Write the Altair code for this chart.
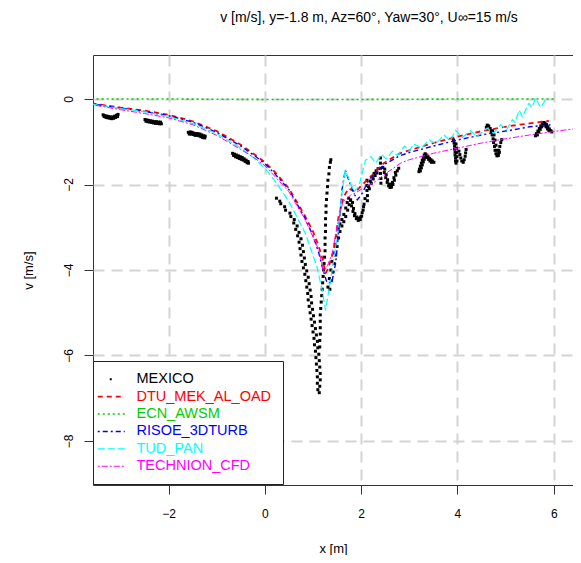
import altair as alt
import pandas as pd

# ---------------- data ----------------
names = ["MEXICO", "DTU_MEK_AL_OAD", "ECN_AWSM", "RISOE_3DTURB", "TUD_PAN", "TECHNION_CFD"]
colors = ["#000000", "#FF0000", "#00CD00", "#0000FF", "#00FFFF", "#FF00FF"]

x_dtu = [-3.6, -3.0, -2.5, -2.0, -1.5, -1.0, -0.5, -0.2, 0.0, 0.2, 0.5, 0.84, 1.0, 1.12, 1.2, 1.26, 1.32,
         1.43, 1.53, 1.64, 1.74, 1.88, 2.09, 2.3, 2.47, 2.8, 3.0, 3.5, 4.0, 4.55, 5.1, 5.5, 5.9]
v_dtu = [-0.1, -0.2, -0.27, -0.37, -0.52, -0.75, -1.07, -1.31, -1.48, -1.7, -2.09, -2.75, -3.1, -3.45, -3.75,
         -4.08, -3.95, -3.53, -2.75, -2.28, -2.09, -2.17, -1.93, -1.7, -1.5, -1.27, -1.2, -1.03, -0.88, -0.74,
         -0.63, -0.57, -0.51]

x_ecn = [-3.6, -2.0, 0.0, 1.3, 2.0, 4.0, 6.0]
v_ecn = [0.0, 0.0, -0.01, -0.01, -0.01, 0.0, 0.0]

x_risoe = [-3.6, -3.0, -2.5, -2.0, -1.5, -1.0, -0.5, -0.2, 0.0, 0.2, 0.5, 0.84, 1.0, 1.12, 1.19, 1.29, 1.39,
           1.47, 1.53, 1.6, 1.67, 1.74, 1.85, 1.92, 2.02, 2.16, 2.3, 2.5, 2.8, 3.0, 3.5, 4.0, 4.5, 5.1, 5.5, 5.97]
v_risoe = [-0.11, -0.21, -0.29, -0.39, -0.54, -0.78, -1.1, -1.34, -1.51, -1.74, -2.12, -2.8, -3.2, -3.6, -3.92,
           -4.3, -4.3, -3.84, -3.14, -2.13, -1.66, -1.89, -2.21, -2.36, -2.21, -1.89, -1.73, -1.52, -1.33, -1.25,
           -1.1, -0.96, -0.84, -0.73, -0.65, -0.6]

x_tud = [-3.6, -3.0, -2.5, -2.0, -1.5, -1.0, -0.5, -0.2, 0.0, 0.2, 0.5, 0.84, 1.08, 1.19, 1.26, 1.33, 1.43,
         1.53, 1.6, 1.67, 1.78, 1.85, 1.95, 2.09, 2.2, 2.3, 2.42, 2.52, 2.65, 2.75, 2.9, 3.0, 3.09, 3.25, 3.41,
         3.55, 3.72, 3.85, 3.96, 4.1, 4.27, 4.4, 4.62, 4.75, 4.9, 5.02, 5.14, 5.2, 5.28, 5.35, 5.48, 5.55,
         5.62, 5.73, 5.83]
v_tud = [-0.12, -0.22, -0.3, -0.41, -0.57, -0.81, -1.15, -1.41, -1.62, -1.9, -2.4, -3.14, -3.92, -4.47, -4.94,
         -4.47, -3.77, -2.99, -2.21, -1.66, -1.97, -2.17, -2.05, -1.43, -1.35, -1.5, -1.3, -1.4, -1.22, -1.32,
         -1.1, -1.22, -1.05, -1.15, -0.95, -1.05, -0.84, -0.98, -0.73, -0.9, -0.74, -0.88, -0.68, -0.8, -0.6,
         -0.72, -0.48, -0.55, -0.26, -0.42, -0.1, -0.2, 0.02, -0.2, -0.02]

x_tech = [-3.6, -3.0, -2.5, -2.0, -1.5, -1.0, -0.5, -0.2, 0.0, 0.2, 0.5, 0.84, 1.12, 1.22, 1.3, 1.4, 1.5, 1.62,
          1.78, 1.88, 2.09, 2.3, 2.5, 2.82, 3.0, 3.5, 4.0, 4.5, 5.0, 5.5, 6.0, 6.6]
v_tech = [-0.13, -0.25, -0.34, -0.44, -0.6, -0.85, -1.18, -1.39, -1.56, -1.8, -2.17, -2.83, -3.53, -4.04, -3.9,
          -3.61, -2.99, -2.4, -2.25, -2.2, -2.05, -1.93, -1.75, -1.5, -1.42, -1.27, -1.15, -1.03, -0.93, -0.84,
          -0.76, -0.67]

# MEXICO measurement points, segment by segment (x, v)
mex_seg1 = [(-3.36, -0.37), (-3.32, -0.39), (-3.28, -0.40), (-3.24, -0.41), (-3.20, -0.42), (-3.16, -0.42),
            (-3.12, -0.40), (-3.08, -0.38), (-3.05, -0.36), (-3.34, -0.41), (-3.30, -0.43), (-3.26, -0.44),
            (-3.22, -0.45), (-3.18, -0.46), (-3.14, -0.45), (-3.10, -0.43), (-3.06, -0.41)]
mex_seg2 = [(-2.49, -0.48), (-2.45, -0.49), (-2.41, -0.50), (-2.37, -0.51), (-2.33, -0.52), (-2.29, -0.53),
            (-2.25, -0.53), (-2.21, -0.54), (-2.17, -0.54), (-2.47, -0.52), (-2.43, -0.53), (-2.39, -0.54),
            (-2.35, -0.55), (-2.31, -0.56), (-2.27, -0.57), (-2.23, -0.57), (-2.19, -0.58), (-2.15, -0.58)]
mex_seg3 = [(-1.59, -0.78), (-1.55, -0.77), (-1.51, -0.78), (-1.47, -0.80), (-1.43, -0.81), (-1.39, -0.81),
            (-1.35, -0.82), (-1.31, -0.84), (-1.27, -0.86), (-1.24, -0.87), (-1.57, -0.82), (-1.53, -0.82),
            (-1.49, -0.83), (-1.45, -0.85), (-1.41, -0.85), (-1.37, -0.86), (-1.33, -0.88), (-1.29, -0.90),
            (-1.25, -0.91)]
mex_seg4 = [(-0.67, -1.27), (-0.63, -1.29), (-0.59, -1.31), (-0.55, -1.33), (-0.51, -1.35), (-0.47, -1.37),
            (-0.43, -1.40), (-0.39, -1.43), (-0.35, -1.46), (-0.65, -1.32), (-0.61, -1.35), (-0.57, -1.37),
            (-0.53, -1.39), (-0.49, -1.41), (-0.45, -1.43), (-0.41, -1.46), (-0.37, -1.49), (-0.34, -1.50)]
mex_dip = [(0.24, -2.32), (0.33, -2.45), (0.43, -2.60), (0.54, -2.75), (0.60, -2.90), (0.64, -3.05),
           (0.68, -3.20), (0.71, -3.35), (0.73, -3.50), (0.75, -3.65), (0.77, -3.80), (0.80, -3.95),
           (0.83, -4.10), (0.85, -4.25), (0.87, -4.40), (0.89, -4.55), (0.90, -4.70), (0.92, -4.85),
           (0.94, -5.00), (0.96, -5.15), (0.98, -5.30), (1.00, -5.45), (1.02, -5.60), (1.03, -5.75),
           (1.05, -5.90), (1.06, -6.05), (1.07, -6.20), (1.08, -6.35), (1.09, -6.50), (1.09, -6.65),
           (1.10, -6.80),
           (0.31, -2.39), (0.41, -2.52), (0.52, -2.67), (0.61, -2.82), (0.67, -2.97), (0.71, -3.12),
           (0.75, -3.27), (0.78, -3.42), (0.80, -3.57), (0.82, -3.72), (0.84, -3.87), (0.87, -4.02),
           (0.90, -4.17), (0.92, -4.32), (0.94, -4.47), (0.96, -4.62), (0.97, -4.77), (0.99, -4.92),
           (1.01, -5.07), (1.03, -5.22), (1.05, -5.37), (1.07, -5.52), (1.09, -5.67), (1.10, -5.82),
           (1.12, -5.97), (1.13, -6.12), (1.14, -6.27), (1.15, -6.42), (1.15, -6.57), (1.14, -6.72),
           (1.13, -6.87)]
mex_column = [(1.14, -5.80), (1.14, -5.65), (1.15, -5.50), (1.15, -5.35), (1.15, -5.20), (1.15, -5.05),
              (1.16, -4.90), (1.17, -4.75), (1.18, -4.60), (1.19, -4.45), (1.20, -4.30), (1.21, -4.15),
              (1.22, -4.00), (1.23, -3.85), (1.24, -3.70), (1.25, -3.55), (1.25, -3.40), (1.25, -3.25),
              (1.26, -3.10), (1.26, -2.95), (1.26, -2.80), (1.27, -2.65), (1.27, -2.50), (1.28, -2.35),
              (1.29, -2.20), (1.30, -2.05), (1.31, -1.90), (1.33, -1.75), (1.34, -1.60), (1.36, -1.48),
              (1.37, -1.42)]
mex_rise = [(1.31, -4.40), (1.34, -4.20), (1.37, -4.00), (1.40, -3.80), (1.43, -3.60), (1.46, -3.40),
            (1.49, -3.20), (1.52, -3.05), (1.56, -2.92), (1.60, -2.82), (1.64, -2.70), (1.68, -2.55),
            (1.71, -2.42), (1.74, -2.32),
            (1.35, -4.45), (1.38, -4.25), (1.41, -4.05), (1.44, -3.85), (1.47, -3.65), (1.50, -3.45),
            (1.53, -3.25), (1.56, -3.10), (1.60, -2.97), (1.64, -2.87), (1.68, -2.75), (1.72, -2.60),
            (1.75, -2.47), (1.78, -2.37)]
mex_bowl = [(1.78, -2.36), (1.80, -2.50), (1.83, -2.63), (1.86, -2.73), (1.90, -2.80), (1.94, -2.84),
            (1.98, -2.82), (2.01, -2.74), (2.04, -2.60), (2.06, -2.46), (2.08, -2.33),
            (1.82, -2.42), (1.84, -2.56), (1.87, -2.68), (1.91, -2.76), (1.95, -2.79), (1.99, -2.76),
            (2.02, -2.66), (2.05, -2.52)]
mex_mid = [(2.12, -1.90), (2.12, -2.02), (2.12, -2.14), (2.13, -2.26), (2.13, -2.38),
           (2.15, -2.05), (2.19, -1.92), (2.23, -1.82), (2.27, -1.74), (2.31, -1.68), (2.35, -1.63),
           (2.17, -2.10), (2.21, -1.97), (2.25, -1.87), (2.29, -1.79), (2.33, -1.73),
           (2.40, -1.38), (2.40, -1.50), (2.40, -1.62), (2.40, -1.74), (2.41, -1.86), (2.41, -1.97),
           (2.45, -1.60), (2.48, -1.72), (2.51, -1.84), (2.54, -1.95), (2.57, -2.03), (2.60, -2.07),
           (2.63, -2.06), (2.66, -2.00), (2.69, -1.90), (2.72, -1.78), (2.75, -1.68), (2.78, -1.62),
           (2.49, -1.64), (2.52, -1.77), (2.55, -1.89), (2.59, -1.99), (2.62, -2.01), (2.65, -1.95),
           (2.68, -1.84), (2.71, -1.72)]
mex_a = [(3.20, -1.70), (3.21, -1.64), (3.23, -1.57), (3.25, -1.50), (3.27, -1.43), (3.29, -1.37),
         (3.31, -1.31), (3.33, -1.28), (3.36, -1.31), (3.39, -1.35), (3.42, -1.39), (3.45, -1.42),
         (3.48, -1.45), (3.51, -1.48), (3.23, -1.68), (3.25, -1.61), (3.27, -1.54), (3.29, -1.47),
         (3.31, -1.41), (3.34, -1.35), (3.37, -1.37), (3.40, -1.41), (3.43, -1.45), (3.46, -1.48)]
mex_b = [(3.90, -0.92), (3.92, -0.96), (3.93, -1.03), (3.94, -1.10), (3.94, -1.17), (3.95, -1.24),
         (3.95, -1.31), (3.96, -1.38), (3.96, -1.45), (3.97, -1.50), (3.97, -1.05), (3.98, -1.15),
         (3.98, -1.25), (3.99, -1.35), (3.99, -1.45), (4.03, -1.22), (4.05, -1.30), (4.07, -1.38),
         (4.09, -1.45), (4.12, -1.48), (4.14, -1.42), (4.16, -1.34), (4.17, -1.26), (4.18, -1.18)]
mex_c = [(4.60, -0.66), (4.62, -0.61), (4.65, -0.63), (4.68, -0.69), (4.70, -0.76), (4.72, -0.84),
         (4.74, -0.93), (4.75, -1.02), (4.77, -1.11), (4.78, -1.20), (4.80, -1.28), (4.82, -1.33),
         (4.84, -1.28), (4.86, -1.20), (4.88, -1.11), (4.90, -1.02), (4.92, -0.95), (4.73, -0.74),
         (4.76, -0.84), (4.78, -0.96), (4.80, -1.08), (4.82, -1.20), (4.85, -1.32), (4.87, -1.25)]
mex_d = [(5.62, -0.86), (5.64, -0.81), (5.67, -0.75), (5.70, -0.69), (5.73, -0.63), (5.76, -0.58),
         (5.79, -0.55), (5.82, -0.56), (5.85, -0.60), (5.88, -0.65), (5.91, -0.70), (5.94, -0.74),
         (5.96, -0.77), (5.66, -0.84), (5.69, -0.78), (5.72, -0.71), (5.75, -0.65), (5.78, -0.60),
         (5.81, -0.61), (5.84, -0.65), (5.87, -0.70), (5.90, -0.74)]

x_ticks = [-2, 0, 2, 4, 6]
y_ticks = [0, -2, -4, -6, -8]
x_domain = [-3.57, 6.40]
y_domain = [-9.03, 1.03]

# ---------------- tables ----------------
model_series = [
    ("DTU_MEK_AL_OAD", x_dtu, v_dtu),
    ("ECN_AWSM", x_ecn, v_ecn),
    ("RISOE_3DTURB", x_risoe, v_risoe),
    ("TUD_PAN", x_tud, v_tud),
    ("TECHNION_CFD", x_tech, v_tech),
]
rows = []
for name, xs, vs in model_series:
    for i, (xv, vv) in enumerate(zip(xs, vs)):
        rows.append({"x": xv, "v": vv, "series": name, "i": i})
lines_df = pd.DataFrame(rows)

mex_all = (mex_seg1 + mex_seg2 + mex_seg3 + mex_seg4 + mex_dip + mex_column + mex_rise + mex_bowl
           + mex_mid + mex_a + mex_b + mex_c + mex_d)
mex_df = pd.DataFrame({"x": [p[0] for p in mex_all], "v": [p[1] for p in mex_all]})

# ---------------- styles ----------------
FONT = "Liberation Sans"
dashes = [[0, 12, 2, 100], [5, 4], [2, 3], [2, 3, 5, 3], [7, 3], [2, 2, 6, 2]]
widths = [2, 1, 1, 1, 1, 1]

label_expr = " : ".join(
    f"datum.value == '{n}' ? '{c}'" for n, c in zip(names, colors)
) + " : 'black'"

legend = alt.Legend(
    title=None, orient="none", legendX=0, legendY=306,
    symbolType="M-3,0H3", symbolSize=81, symbolFillColor="transparent",
    labelFont=FONT, labelFontSize=14.5, labelColor=alt.ExprRef(expr=label_expr),
    labelOffset=18, strokeColor="#222222", fillColor="white", padding=11, rowPadding=2.4,
    cornerRadius=0,
)

xscale = alt.Scale(domain=x_domain, nice=False, zero=False)
yscale = alt.Scale(domain=y_domain, nice=False, zero=False)

x_axis = alt.Axis(values=x_ticks, title="x [m]", labelBaseline="middle", labelPadding=19,
                  titleY=63, titleBaseline="middle")
y_axis = alt.Axis(values=y_ticks, title="v [m/s]", labelAngle=270, labelAlign="center",
                  labelBaseline="middle", labelPadding=16, titleAngle=270, titleX=-65, titleY=215,
                  titleBaseline="middle", titleAlign="center")

points = alt.Chart(mex_df).mark_square(size=9, color="black", opacity=1, clip=True).encode(
    x=alt.X("x:Q", scale=xscale, axis=x_axis),
    y=alt.Y("v:Q", scale=yscale, axis=y_axis),
)

lines = alt.Chart(lines_df).mark_line(clip=True, strokeCap="butt", strokeJoin="round").encode(
    x=alt.X("x:Q", scale=xscale, axis=x_axis),
    y=alt.Y("v:Q", scale=yscale, axis=y_axis),
    order=alt.Order("i:Q"),
    color=alt.Color("series:N", scale=alt.Scale(domain=names, range=colors), legend=legend),
    strokeDash=alt.StrokeDash("series:N", scale=alt.Scale(domain=names, range=dashes), legend=legend),
    strokeWidth=alt.StrokeWidth("series:N", scale=alt.Scale(domain=names, range=widths), legend=legend),
)

chart = (
    alt.layer(points, lines)
    .properties(
        width=480, height=430,
        autosize=alt.AutoSizeParams(type="none"),
        padding={"left": 85, "top": 47, "right": 0, "bottom": 70},
        title=alt.TitleParams(
            text="v [m/s], y=-1.8 m, Az=60°, Yaw=30°, U∞=15 m/s",
            font=FONT, fontSize=14, fontWeight="normal", color="black",
            anchor="middle", frame="group", dx=36, offset=30,
        ),
    )
    .configure_view(stroke="#333333", strokeWidth=1)
    .configure_axis(
        domain=False, grid=True, gridColor="#d3d3d3", gridDash=[11, 7], gridWidth=2,
        ticks=True, tickColor="#333333", tickSize=9, tickWidth=1,
        labelFont=FONT, labelFontSize=12, labelColor="black",
        titleFont=FONT, titleFontSize=13, titleFontWeight="normal", titleColor="black",
    )
)

chart.save("out.html", embed_options={"renderer": "svg", "actions": False})
